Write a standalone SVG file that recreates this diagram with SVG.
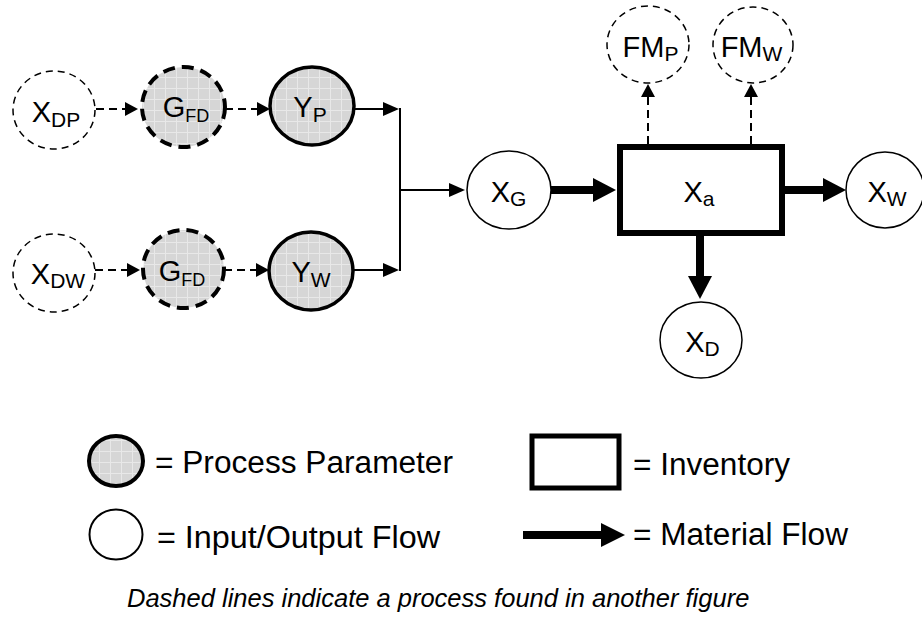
<svg xmlns="http://www.w3.org/2000/svg" width="922" height="623" viewBox="0 0 922 623">
<defs>
<pattern id="grid" patternUnits="userSpaceOnUse" width="11" height="11">
<rect width="11" height="11" fill="#d6d6d6"/>
<path d="M0,0.5 H11 M0.5,0 V11" stroke="#e8e8e8" stroke-width="1" fill="none"/>
</pattern>
<marker id="thin" markerUnits="userSpaceOnUse" markerWidth="16" markerHeight="14" refX="0" refY="7" orient="auto"><path d="M0,0 L16,7 L0,14 z" fill="#000"/></marker>
<marker id="dsh" markerUnits="userSpaceOnUse" markerWidth="13" markerHeight="14" refX="0" refY="7" orient="auto"><path d="M0,0 L13,7 L0,14 z" fill="#000"/></marker>
<marker id="thick" markerUnits="userSpaceOnUse" markerWidth="23" markerHeight="24" refX="0" refY="12" orient="auto"><path d="M0,0 L23,12 L0,24 z" fill="#000"/></marker>
</defs>
<style>
text{font-family:"Liberation Sans",Arial,sans-serif;fill:#000}
.lbl{font-size:29px;text-anchor:middle}
.sub{font-size:21px}
.subs{font-size:18px}
.ext{fill:#fff;stroke:#000;stroke-width:1.5;stroke-dasharray:7 5}
.par{fill:url(#grid);stroke:#000;stroke-width:4;stroke-dasharray:12 7}
.parS{fill:url(#grid);stroke:#000;stroke-width:3.5}
.io{fill:#fff;stroke:#000;stroke-width:1.5}
.inv{fill:#fff;stroke:#000;stroke-width:6}
.c-thin{stroke:#000;stroke-width:2;fill:none}
.c-dash{stroke:#000;stroke-width:2;stroke-dasharray:8 5;fill:none}
.c-thick{stroke:#000;stroke-width:8;fill:none}
.leg{font-size:31px}
.cap{font-size:25.5px;font-style:italic}
</style>
<rect width="922" height="623" fill="#fff"/>

<g id="connectors">
<line class="c-dash" x1="96" y1="109" x2="125" y2="109" marker-end="url(#dsh)"/>
<line class="c-dash" x1="225" y1="109" x2="257" y2="109" marker-end="url(#dsh)"/>
<line class="c-thin" x1="354" y1="109" x2="383" y2="109" marker-end="url(#thin)"/>
<line class="c-dash" x1="95" y1="270" x2="127" y2="270" marker-end="url(#dsh)"/>
<line class="c-dash" x1="224" y1="270" x2="256" y2="270" marker-end="url(#dsh)"/>
<line class="c-thin" x1="353" y1="270" x2="383" y2="270" marker-end="url(#thin)"/>
<line class="c-thin" x1="400" y1="108" x2="400" y2="271"/>
<line class="c-thin" x1="400" y1="190" x2="449" y2="190" marker-end="url(#thin)"/>
<line class="c-thick" x1="551" y1="190" x2="593" y2="190" marker-end="url(#thick)"/>
<line class="c-thick" x1="785" y1="190" x2="823" y2="190" marker-end="url(#thick)"/>
<line class="c-thick" x1="700" y1="236" x2="700" y2="276" marker-end="url(#thick)"/>
<line class="c-dash" x1="648" y1="144" x2="648" y2="97" marker-end="url(#dsh)"/>
<line class="c-dash" x1="751" y1="144" x2="751" y2="97" marker-end="url(#dsh)"/>
</g>

<g id="node-XDP">
<ellipse class="ext" cx="54" cy="110" rx="41" ry="39"/>
<text class="lbl" x="56" y="122">X<tspan class="sub" dy="5">DP</tspan></text>
</g>
<g id="node-GFD-P">
<ellipse class="par" cx="183.5" cy="107" rx="41.5" ry="40"/>
<text class="lbl" x="186" y="117">G<tspan class="subs" dy="5">FD</tspan></text>
</g>
<g id="node-YP">
<ellipse class="parS" cx="312" cy="106" rx="42" ry="39"/>
<text class="lbl" x="310" y="117">Y<tspan class="sub" dy="5">P</tspan></text>
</g>
<g id="node-XDW">
<ellipse class="ext" cx="54" cy="273" rx="41" ry="39"/>
<text class="lbl" x="58" y="284">X<tspan class="sub" dy="4">DW</tspan></text>
</g>
<g id="node-GFD-W">
<ellipse class="par" cx="183.5" cy="269" rx="40.5" ry="39"/>
<text class="lbl" x="182" y="281">G<tspan class="subs" dy="5">FD</tspan></text>
</g>
<g id="node-YW">
<ellipse class="parS" cx="311" cy="271" rx="42" ry="39"/>
<text class="lbl" x="311" y="282">Y<tspan class="sub" dy="5">W</tspan></text>
</g>
<g id="node-XG">
<ellipse class="io" cx="509" cy="190" rx="42" ry="39"/>
<text class="lbl" x="508.5" y="202">X<tspan class="sub" dy="4">G</tspan></text>
</g>
<g id="node-Xa">
<rect class="inv" x="620" y="147" width="162" height="86"/>
<text class="lbl" x="699" y="202">X<tspan class="sub" dy="4">a</tspan></text>
</g>
<g id="node-XW">
<ellipse class="io" cx="885" cy="190" rx="39" ry="38"/>
<text class="lbl" x="887" y="202">X<tspan class="sub" dy="4">W</tspan></text>
</g>
<g id="node-XD">
<ellipse class="io" cx="701" cy="340" rx="41" ry="38"/>
<text class="lbl" x="702.5" y="352">X<tspan class="sub" dy="4">D</tspan></text>
</g>
<g id="node-FMP">
<ellipse class="ext" cx="648" cy="44.5" rx="41" ry="38.5"/>
<text class="lbl" x="650.5" y="57">FM<tspan class="sub" dy="4">P</tspan></text>
</g>
<g id="node-FMW">
<ellipse class="ext" cx="753" cy="45" rx="40" ry="38"/>
<text class="lbl" x="751.5" y="57">FM<tspan class="sub" dy="4">W</tspan></text>
</g>

<g id="legend">
<ellipse cx="116" cy="461" rx="27" ry="25" fill="url(#grid)" stroke="#000" stroke-width="4"/>
<text class="leg" x="155" y="473" textLength="298" lengthAdjust="spacingAndGlyphs">= Process Parameter</text>
<ellipse cx="116" cy="534.5" rx="26.5" ry="25" fill="#fff" stroke="#000" stroke-width="2"/>
<text class="leg" x="157" y="548" textLength="283" lengthAdjust="spacingAndGlyphs">= Input/Output Flow</text>
<rect x="532" y="436" width="87" height="52" fill="#fff" stroke="#000" stroke-width="5"/>
<text class="leg" x="633" y="475" textLength="157" lengthAdjust="spacingAndGlyphs">= Inventory</text>
<line x1="523" y1="535" x2="601" y2="535" stroke="#000" stroke-width="8"/>
<path d="M601,523 L625,535 L601,547 z" fill="#000"/>
<text class="leg" x="633" y="545" textLength="215" lengthAdjust="spacingAndGlyphs">= Material Flow</text>
<text class="cap" x="127" y="607">Dashed lines indicate a process found in another figure</text>
</g>
</svg>
